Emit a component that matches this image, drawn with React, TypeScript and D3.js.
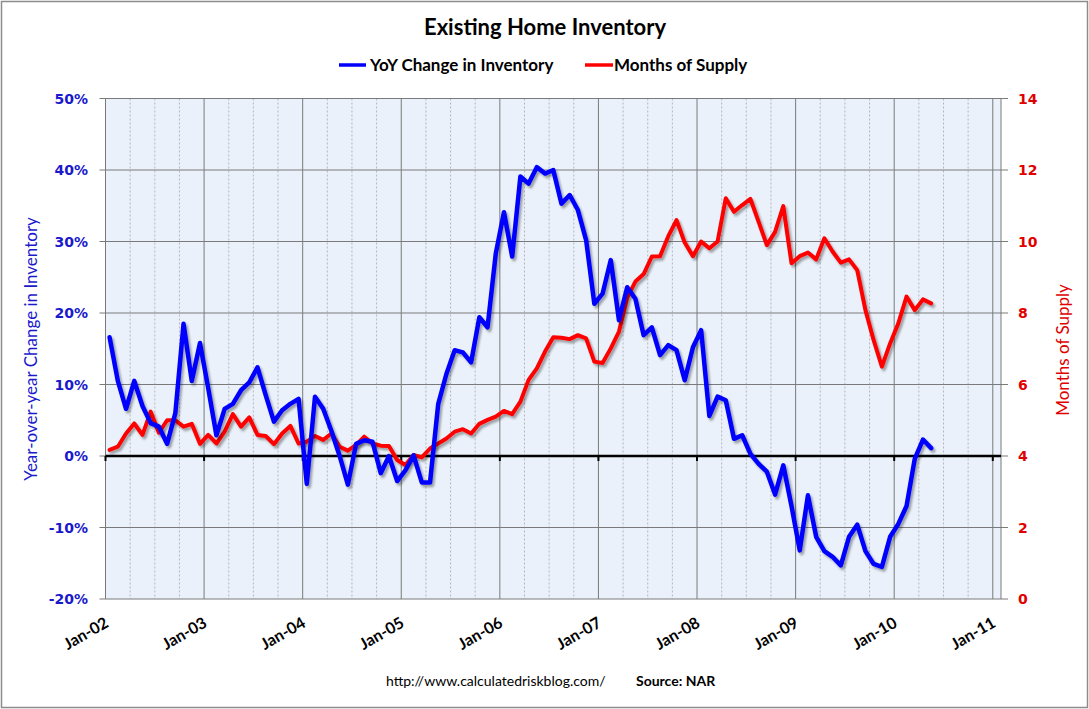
import React from "react";
import * as d3 from "d3";

// Monthly data Jan-02 .. May-10
const startYear = 2002;
const yoyChange: number[] = [
  16.6, 10.5, 6.6, 10.5, 7.0, 4.6, 4.1, 1.7, 6.0, 18.5, 10.5, 15.8,
  9.5, 2.9, 6.6, 7.3, 9.2, 10.3, 12.4, 8.5, 4.8, 6.4, 7.3, 8.0,
  -3.9, 8.3, 6.6, 3.5, 0.0, -4.0, 1.7, 2.2, 2.0, -2.4, 0.0, -3.5,
  -2.0, 0.1, -3.7, -3.7, 7.3, 11.5, 14.8, 14.5, 13.1, 19.4, 18.0, 28.3,
  34.1, 27.9, 39.1, 38.1, 40.4, 39.5, 40.0, 35.3, 36.5, 34.4, 30.2, 21.3,
  22.7, 27.4, 19.0, 23.6, 22.0, 16.9, 18.0, 14.1, 15.5, 14.8, 10.6, 15.2,
  17.6, 5.6, 8.3, 7.8, 2.4, 2.9, 0.3, -1.1, -2.2, -5.4, -1.3, -7.0,
  -13.2, -5.5, -11.3, -13.3, -14.1, -15.3, -11.3, -9.6, -13.3, -15.1, -15.5, -11.3,
  -9.5, -7.0, -0.4, 2.3, 1.1,
];
const monthsSupply: number[] = [
  4.17, 4.26, 4.63, 4.91, 4.59, 5.24, 4.65, 5.0, 5.0, 4.82, 4.9, 4.34,
  4.59, 4.35, 4.68, 5.17, 4.82, 5.08, 4.59, 4.56, 4.33, 4.63, 4.84, 4.35,
  4.4, 4.56, 4.45, 4.63, 4.26, 4.15, 4.31, 4.54, 4.35, 4.29, 4.28, 3.89,
  3.75, 4.03, 3.96, 4.21, 4.35, 4.49, 4.68, 4.75, 4.63, 4.9, 5.01, 5.1,
  5.26, 5.17, 5.52, 6.13, 6.45, 6.92, 7.32, 7.31, 7.27, 7.38, 7.29, 6.64,
  6.6, 7.01, 7.48, 8.43, 8.88, 9.09, 9.58, 9.59, 10.15, 10.6, 9.97, 9.59,
  10.0, 9.81, 10.0, 11.21, 10.83, 11.02, 11.19, 10.55, 9.9, 10.27, 10.99, 9.39,
  9.59, 9.69, 9.5, 10.09, 9.72, 9.41, 9.5, 9.2, 8.08, 7.24, 6.5, 7.15,
  7.71, 8.46, 8.08, 8.38, 8.27,
];
const leftTicks: number[] = [-20, -10, 0, 10, 20, 30, 40, 50];
const rightTicks: number[] = [0, 2, 4, 6, 8, 10, 12, 14];
const xLabels: string[] = ["Jan-02", "Jan-03", "Jan-04", "Jan-05", "Jan-06", "Jan-07", "Jan-08", "Jan-09", "Jan-10", "Jan-11"];

const W = 1089;
const H = 709;
const L = 105.5, R = 1001, T = 98.5, B = 599;
const totalMonths = 109;

export default function App() {
  const x = d3.scaleLinear().domain([0, totalMonths]).range([L, R]);
  const yL = d3.scaleLinear().domain([-20, 50]).range([B, T]);
  const yR = d3.scaleLinear().domain([0, 14]).range([B, T]);

  const blueLine = d3.line<number>().x((_, i) => x(i + 0.5)).y((d) => yL(d));
  const redLine = d3.line<number>().x((_, i) => x(i + 0.5)).y((d) => yR(d));

  const yearMonths = d3.range(0, totalMonths + 1, 12);
  const quarterMonths = d3.range(0, totalMonths, 3).filter((m) => m % 12 !== 0);

  const font = "Lato, 'Open Sans', sans-serif";
  const tickFont = "'DejaVu Sans', Verdana, sans-serif";

  return (
    <div style={{ position: "absolute", left: 0, top: 0 }}>
      <svg width={W} height={H} style={{ display: "block", background: "#fff" }}>
        <defs>
          <filter id="shadow" x="-5%" y="-5%" width="110%" height="110%">
            <feDropShadow dx="2" dy="2.5" stdDeviation="1.2" floodColor="#000" floodOpacity="0.35" />
          </filter>
        </defs>
        <rect x={1.5} y={1.5} width={W - 3} height={H - 3} fill="#fff" stroke="#8c8c8c" strokeWidth={1.5} />

        <text x={545} y={35} textAnchor="middle" fontFamily={font} fontWeight="bold" fontSize={22} fill="#000">
          Existing Home Inventory
        </text>

        {/* legend */}
        <line x1={339} x2={366} y1={65} y2={65} stroke="#0000FF" strokeWidth={3.5} />
        <text x={370} y={71} fontFamily={font} fontWeight="bold" fontSize={17} fill="#000">YoY Change in Inventory</text>
        <line x1={585} x2={613} y1={65} y2={65} stroke="#FF0000" strokeWidth={3.5} />
        <text x={614} y={71} fontFamily={font} fontWeight="bold" fontSize={17} fill="#000">Months of Supply</text>

        {/* plot area */}
        <rect x={L} y={T} width={R - L} height={B - T} fill="#EAF1FA" />

        {quarterMonths.map((m) => (
          <line key={"q" + m} x1={x(m)} x2={x(m)} y1={T} y2={B} stroke="#a8a8a8" strokeWidth={0.8} strokeDasharray="2,2" />
        ))}
        {yearMonths.map((m) => (
          <line key={"y" + m} x1={x(m)} x2={x(m)} y1={T} y2={B} stroke="#7a7a7a" strokeWidth={1} />
        ))}
        {leftTicks.map((t) => (
          <line key={"h" + t} x1={L} x2={R} y1={yL(t)} y2={yL(t)} stroke="#7a7a7a" strokeWidth={1} />
        ))}
        <line x1={L} x2={L} y1={T} y2={B} stroke="#7a7a7a" strokeWidth={1} />
        <line x1={R} x2={R} y1={T} y2={B} stroke="#7a7a7a" strokeWidth={1} />

        {/* left axis ticks */}
        {leftTicks.map((t) => (
          <g key={"lt" + t}>
            <line x1={L - 6} x2={L} y1={yL(t)} y2={yL(t)} stroke="#7a7a7a" strokeWidth={1} />
            <text x={88} y={yL(t) + 5} textAnchor="end" fontFamily={tickFont} fontWeight="bold" fontSize={14} fill="#1a1acc">
              {t + "%"}
            </text>
          </g>
        ))}
        {rightTicks.map((t) => (
          <g key={"rt" + t}>
            <line x1={R} x2={R + 7} y1={yR(t)} y2={yR(t)} stroke="#7a7a7a" strokeWidth={1} />
            <text x={1018} y={yR(t) + 5} textAnchor="start" fontFamily={tickFont} fontWeight="bold" fontSize={14} fill="#e00000">
              {t}
            </text>
          </g>
        ))}

        {/* zero axis */}
        <line x1={L} x2={R} y1={yL(0)} y2={yL(0)} stroke="#000" strokeWidth={2.5} />
        {yearMonths.map((m) => (
          <line key={"zt" + m} x1={x(m)} x2={x(m)} y1={yL(0)} y2={yL(0) + 5} stroke="#000" strokeWidth={2} />
        ))}

        {/* series */}
        <path d={redLine(monthsSupply) || ""} fill="none" stroke="#FF0000" strokeWidth={4} strokeLinejoin="round" strokeLinecap="round" filter="url(#shadow)" />
        <path d={blueLine(yoyChange) || ""} fill="none" stroke="#0000FF" strokeWidth={4.5} strokeLinejoin="round" strokeLinecap="round" filter="url(#shadow)" />

        {/* x labels */}
        {xLabels.map((lab, i) => {
          const px = x(i * 12) + 4;
          const py = 626;
          return (
            <text key={lab} x={px} y={py} textAnchor="end" fontFamily={font} fontWeight="bold" fontSize={16} fill="#000"
              transform={`rotate(-30 ${px} ${py})`}>
              {lab}
            </text>
          );
        })}

        {/* axis titles */}
        <text transform={`translate(37 ${349}) rotate(-90)`} textAnchor="middle" fontFamily={font} fontSize={17} fill="#1a1acc">
          Year-over-year Change in Inventory
        </text>
        <text transform={`translate(1069 ${350}) rotate(-90)`} textAnchor="middle" fontFamily={font} fontSize={17} fill="#e00000">
          Months of Supply
        </text>

        {/* footer */}
        <text x={386} y={686} fontFamily={font} fontSize={14} fill="#000">http://www.calculatedriskblog.com/</text>
        <text x={636} y={686} fontFamily={font} fontWeight="bold" fontSize={14} fill="#000">Source: NAR</text>
      </svg>
    </div>
  );
}
